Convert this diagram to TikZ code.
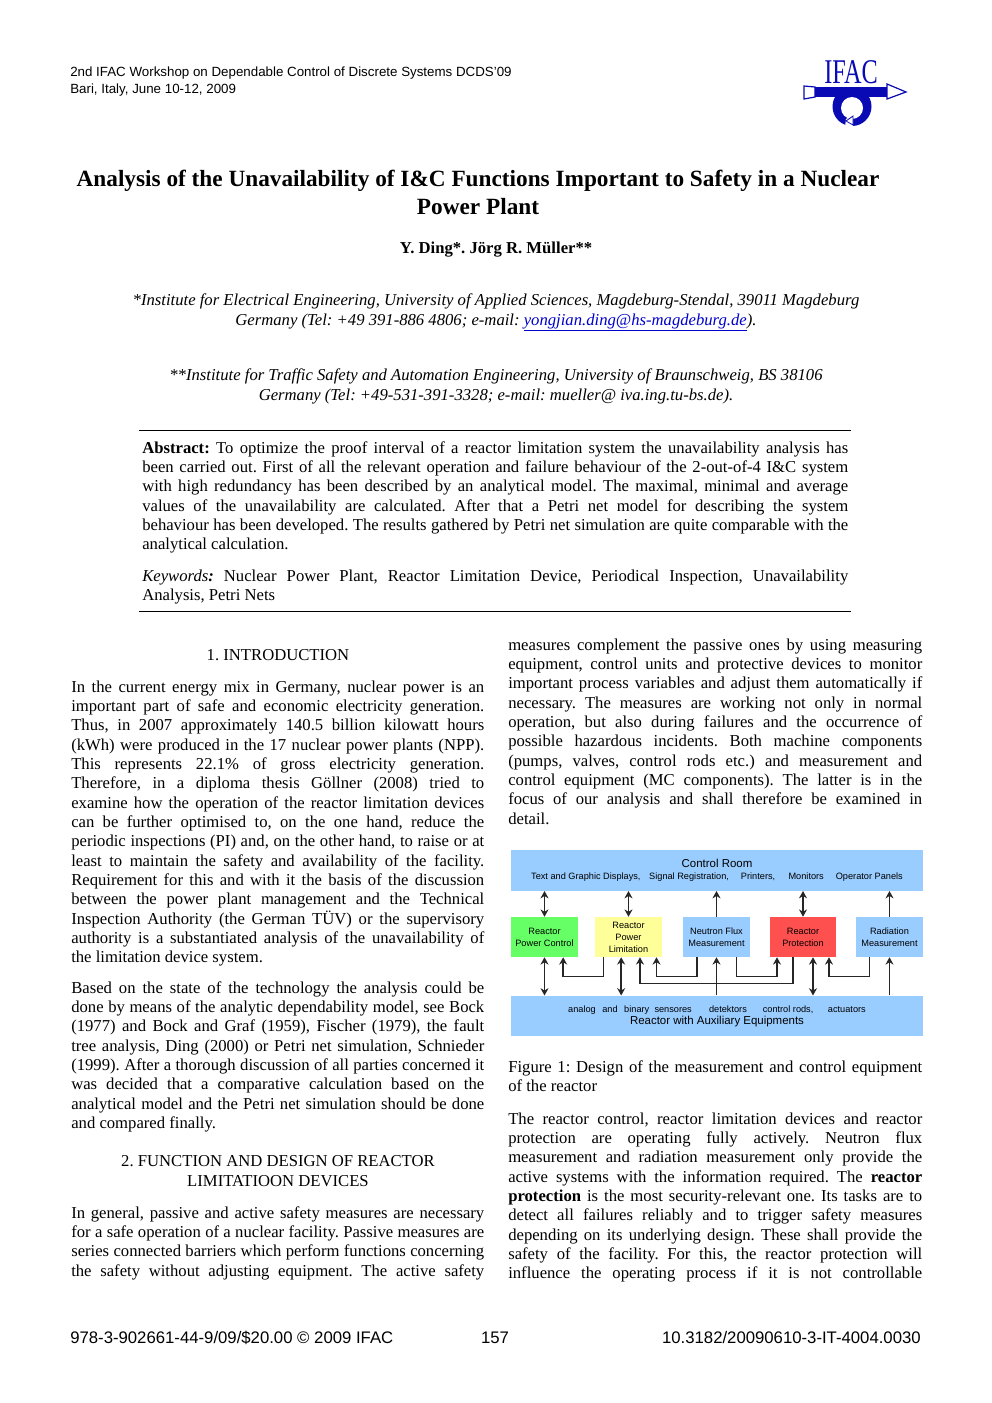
\documentclass[tikz,border=0pt]{standalone}
\usepackage{graphicx}
\usepackage{fontspec}
\setmainfont{Liberation Serif}
\setsansfont{Liberation Sans}
\usetikzlibrary{arrows.meta}
\definecolor{boxblue}{HTML}{99CCFF}
\definecolor{boxgreen}{HTML}{66FF66}
\definecolor{boxyellow}{HTML}{FFFF99}
\definecolor{boxred}{HTML}{FF5050}
\definecolor{ifacblue}{HTML}{0A0AB4}
\definecolor{linkblue}{HTML}{0000CC}
\tolerance=9999
\emergencystretch=3em
\hbadness=10000
\hfuzz=20pt
\frenchspacing
\newcommand{\bodyfont}{\fontsize{12.5pt}{14.5pt}\selectfont}
\newcommand{\lnk}[1]{{\color{linkblue}\underline{#1}}}
\newcommand{\para}[5]{\node[anchor=base west,inner sep=0pt,text width=#4*0.75pt,align=justify,font=\bodyfont] (#1) at (#2,#3) {#5\par};}
\newcommand{\ctrline}[4]{\node[anchor=base,inner sep=0pt,font=#4] at (#1,#2) {#3};}
\tikzset{
  x=0.75pt,y=-0.75pt,
  block/.style={rectangle,inner sep=0pt,minimum width=66.5*0.75pt,minimum height=40*0.75pt,align=center,font=\sffamily\fontsize{6.9pt}{9pt}\selectfont},
  wide/.style={rectangle,fill=boxblue,inner sep=0pt,minimum width=412*0.75pt,minimum height=40.5*0.75pt,align=center},
  one/.style={line width=1.15pt,draw=black!85,-{Stealth[length=5.5pt,width=6pt]}},
  two/.style={line width=1.15pt,draw=black!85,{Stealth[length=5.5pt,width=6pt]}-{Stealth[length=5.5pt,width=6pt]}},
  rulev/.style={line width=0.6pt,draw=black}
}
\begin{document}
\begin{tikzpicture}
\useasboundingbox (0,0) rectangle (992,1403);
\fill[white] (0,0) rectangle (992,1403);
% header
\node[anchor=base west,inner sep=0pt,font=\sffamily\fontsize{10pt}{11pt}\selectfont] at (70,76) {2nd IFAC Workshop on Dependable Control of Discrete Systems DCDS'09};
\node[anchor=base west,inner sep=0pt,font=\sffamily\fontsize{10pt}{11pt}\selectfont] at (70,93) {Bari, Italy, June 10-12, 2009};
% logo
\node[anchor=base,inner sep=0pt,text=ifacblue,font=\fontsize{26pt}{26pt}\selectfont] at (851,83) {\scalebox{0.7}[1]{IFAC}};
\fill[ifacblue] (852,106.5) circle (19.5);
\fill[white] (852,108) circle (11);
\draw[ifacblue,line width=0.9pt,fill=white] (815,87)--(804,86)--(804,99)--(815,97)--cycle;
\draw[ifacblue,line width=0.9pt,fill=white] (887,84)--(906,92)--(887,99)--cycle;
\fill[ifacblue] (815,87) rectangle (887,97);
\fill[white] (846,119)--(853,115)--(853,127)--(845,127)--cycle;
\draw[ifacblue,line width=0.6pt] (846,121)--(853,116)--(853,125)--cycle;
% title
\ctrline{478}{186}{\textbf{Analysis of the Unavailability of I\&C Functions Important to Safety in a Nuclear}}{\fontsize{17.45pt}{20pt}\selectfont}
\ctrline{478}{214}{\textbf{Power Plant}}{\fontsize{17.45pt}{20pt}\selectfont}
\ctrline{496}{253}{\textbf{Y. Ding*. Jörg R. Müller**}}{\bodyfont}
\ctrline{496}{305}{\textit{*Institute for Electrical Engineering, University of Applied Sciences, Magdeburg-Stendal, 39011 Magdeburg}}{\bodyfont}
\ctrline{496}{325}{\textit{Germany (Tel: +49 391-886 4806; e-mail: \lnk{yongjian.ding@hs-magdeburg.de}).}}{\bodyfont}
\ctrline{496}{380}{\textit{**Institute for Traffic Safety and Automation Engineering, University of Braunschweig, BS 38106}}{\bodyfont}
\ctrline{496}{400}{\textit{Germany (Tel: +49-531-391-3328; e-mail: mueller@ iva.ing.tu-bs.de).}}{\bodyfont}
% rules
\coordinate (r1a) at (139,430); \coordinate (r1b) at (851,430);
\coordinate (r2a) at (139,611); \coordinate (r2b) at (851,611);
\draw[rulev] (r1a)--(r1b);
\draw[rulev] (r2a)--(r2b);
% abstract
\para{abs}{142}{453}{706}{\textbf{Abstract:} To optimize the proof interval of a reactor limitation system the unavailability analysis has\linebreak
been carried out. First of all the relevant operation and failure behaviour of the 2-out-of-4 I\&C system\linebreak
with high redundancy has been described by an analytical model. The maximal, minimal and average\linebreak
values of the unavailability are calculated. After that a Petri net model for describing the system\linebreak
behaviour has been developed. The results gathered by Petri net simulation are quite comparable with the\linebreak
analytical calculation.}
\para{kw}{142}{581}{706}{\textit{Keywords}\textbf{\textit{:}} Nuclear Power Plant, Reactor Limitation Device, Periodical Inspection, Unavailability\linebreak
Analysis, Petri Nets}
% left column
\ctrline{278}{660}{1. INTRODUCTION}{\bodyfont}
\para{p1}{71}{692}{413}{In the current energy mix in Germany, nuclear power is an\linebreak
important part of safe and economic electricity generation.\linebreak
Thus, in 2007 approximately 140.5 billion kilowatt hours\linebreak
(kWh) were produced in the 17 nuclear power plants (NPP).\linebreak
This represents 22.1\% of gross electricity generation.\linebreak
Therefore, in a diploma thesis Göllner (2008) tried to\linebreak
examine how the operation of the reactor limitation devices\linebreak
can be further optimised to, on the one hand, reduce the\linebreak
periodic inspections (PI) and, on the other hand, to raise or at\linebreak
least to maintain the safety and availability of the facility.\linebreak
Requirement for this and with it the basis of the discussion\linebreak
between the power plant management and the Technical\linebreak
Inspection Authority (the German TÜV) or the supervisory\linebreak
authority is a substantiated analysis of the unavailability of\linebreak
the limitation device system.}
\para{p2}{71}{993}{413}{Based on the state of the technology the analysis could be\linebreak
done by means of the analytic dependability model, see Bock\linebreak
(1977) and Bock and Graf (1959), Fischer (1979), the fault\linebreak
tree analysis, Ding (2000) or Petri net simulation, Schnieder\linebreak
(1999). After a thorough discussion of all parties concerned it\linebreak
was decided that a comparative calculation based on the\linebreak
analytical model and the Petri net simulation should be done\linebreak
and compared finally.}
\ctrline{278}{1166}{2. FUNCTION AND DESIGN OF REACTOR}{\bodyfont}
\ctrline{278}{1186}{LIMITATIOON DEVICES}{\bodyfont}
\para{p3}{71}{1218}{413}{In general, passive and active safety measures are necessary\linebreak
for a safe operation of a nuclear facility. Passive measures are\linebreak
series connected barriers which perform functions concerning\linebreak
the safety without adjusting equipment. The active safety\linebreak
\mbox{}}
% right column
\para{p4}{508}{650}{414}{measures complement the passive ones by using measuring\linebreak
equipment, control units and protective devices to monitor\linebreak
important process variables and adjust them automatically if\linebreak
necessary. The measures are working not only in normal\linebreak
operation, but also during failures and the occurrence of\linebreak
possible hazardous incidents. Both machine components\linebreak
(pumps, valves, control rods etc.) and measurement and\linebreak
control equipment (MC components). The latter is in the\linebreak
focus of our analysis and shall therefore be examined in\linebreak
detail.}
\para{cap}{508}{1072}{414}{Figure 1: Design of the measurement and control equipment\linebreak
of the reactor}
\para{p5}{508}{1124}{414}{The reactor control, reactor limitation devices and reactor\linebreak
protection are operating fully actively. Neutron flux\linebreak
measurement and radiation measurement only provide the\linebreak
active systems with the information required. The \textbf{reactor}\linebreak
\textbf{protection} is the most security-relevant one. Its tasks are to\linebreak
detect all failures reliably and to trigger safety measures\linebreak
depending on its underlying design. These shall provide the\linebreak
safety of the facility. For this, the reactor protection will\linebreak
influence the operating process if it is not controllable\linebreak
\mbox{}}
% diagram
\node[wide,font=\sffamily\fontsize{6.9pt}{9.5pt}\selectfont] (cr) at (717,870.5) {{\fontsize{8.6pt}{10pt}\selectfont Control Room}\\[-0.5pt]Text and Graphic Displays,\hspace{6.5pt}Signal Registration,\hspace{9pt}Printers,\hspace{10pt}Monitors\hspace{9pt}Operator Panels};
\node[wide,font=\sffamily\fontsize{6.9pt}{9.5pt}\selectfont] (re) at (717,1016) {analog\hspace{3pt} and\hspace{3pt} binary\hspace{2pt} sensores\hspace{11pt} detektors\hspace{10pt} control rods,\hspace{9pt} actuators\\[-0.5pt]{\fontsize{8.6pt}{10pt}\selectfont Reactor with Auxiliary Equipments}};
\node[block,fill=boxgreen] (pc) at (544.5,937) {Reactor\\Power Control};
\node[block,fill=boxyellow] (pl) at (628.5,937) {Reactor\\Power\\Limitation};
\node[block,fill=boxblue] (nf) at (716.5,937) {Neutron Flux\\Measurement};
\node[block,fill=boxred] (rp) at (803,937) {Reactor\\Protection};
\node[block,fill=boxblue] (rm) at (889.5,937) {Radiation\\Measurement};
% upper connectors
\draw[two] (pc.north) -- (pc.north |- cr.south);
\draw[two] (pl.north) -- (pl.north |- cr.south);
\draw[one] (nf.north) -- (nf.north |- cr.south);
\draw[two] (rp.north) -- (rp.north |- cr.south);
\draw[one] (rm.north) -- (rm.north |- cr.south);
% lower connectors
\draw[two] (pc.south) -- (pc.south |- re.north);
\draw[two] ([xshift=-5.5pt]pl.south) -- ([xshift=-5.5pt]pl.south |- re.north);
\draw[one] (re.north -| nf.south) -- (nf.south);
\draw[two] ([xshift=7.5pt]rp.south) -- ([xshift=7.5pt]rp.south |- re.north);
\draw[one] (re.north -| rm.south) -- (rm.south);
% cross connectors
\draw[one] ([xshift=-18.7pt]pl.south) -- ++(0,19) -| ([xshift=14pt]pc.south);
\draw[one] ([xshift=-14.6pt]nf.south) -- ++(0,19) -| ([xshift=21pt]pl.south);
\draw[one] ([xshift=-7.5pt]rp.south) -- ++(0,26) -| ([xshift=8.6pt]pl.south);
\draw[one] ([xshift=15pt]nf.south) -- ++(0,19) -| ([xshift=-19.5pt]rp.south);
\draw[one] ([xshift=-15pt]rm.south) -- ++(0,19) -| ([xshift=19.5pt]rp.south);
% footer
\node[anchor=base west,inner sep=0pt,font=\sffamily\fontsize{12.55pt}{14pt}\selectfont] at (70,1343) {978-3-902661-44-9/09/\$20.00 © 2009 IFAC};
\node[anchor=base,inner sep=0pt,font=\sffamily\fontsize{12.55pt}{14pt}\selectfont] at (495,1343) {157};
\node[anchor=base east,inner sep=0pt,font=\sffamily\fontsize{12.55pt}{14pt}\selectfont] at (921,1343) {10.3182/20090610-3-IT-4004.0030};
\end{tikzpicture}
\end{document}
